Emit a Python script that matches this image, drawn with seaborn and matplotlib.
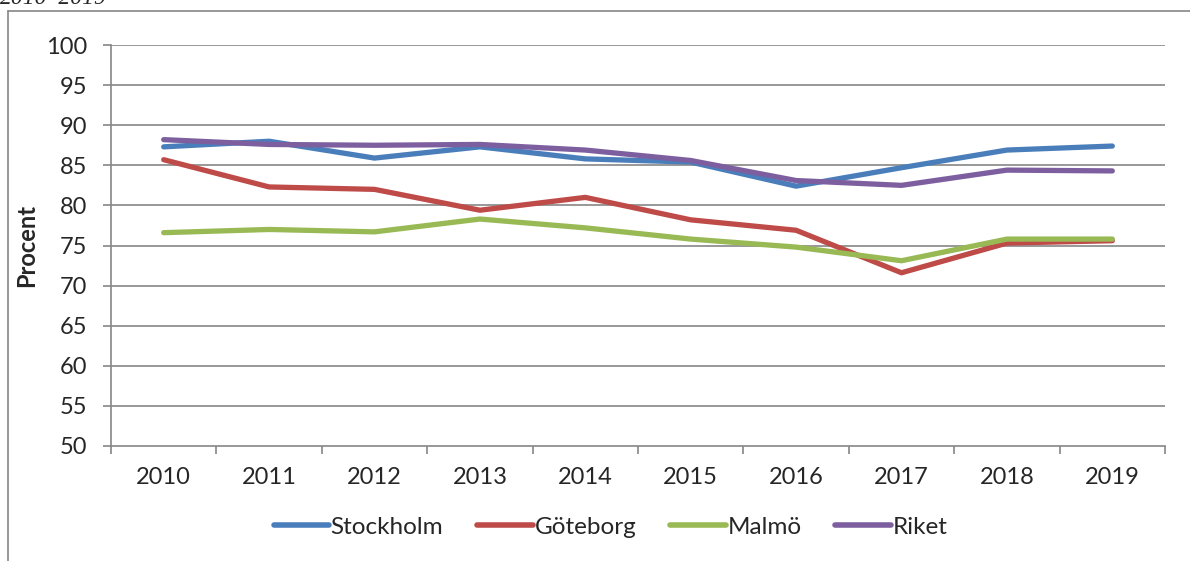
import seaborn as sns
import matplotlib.pyplot as plt
import pandas as pd
from matplotlib.lines import Line2D

years = ['2010', '2011', '2012', '2013', '2014', '2015', '2016', '2017', '2018', '2019']
stockholm = [87.3, 88.0, 85.9, 87.3, 85.8, 85.4, 82.4, 84.7, 86.9, 87.4]
goteborg = [85.7, 82.3, 82.0, 79.4, 81.0, 78.2, 76.9, 71.6, 75.3, 75.6]
malmo = [76.6, 77.0, 76.7, 78.3, 77.2, 75.8, 74.8, 73.1, 75.8, 75.8]
riket = [88.2, 87.6, 87.5, 87.6, 86.9, 85.6, 83.1, 82.5, 84.4, 84.3]

series_names = ['Stockholm', 'Göteborg', 'Malmö', 'Riket']
colors = ['#4A7EBB', '#BE4B48', '#98B954', '#7D5FA0']

rows = []
for name, vals in zip(series_names, [stockholm, goteborg, malmo, riket]):
    for i, v in enumerate(vals):
        rows.append({'pos': i, 'serie': name, 'procent': v})
df = pd.DataFrame(rows)

sns.set_style('white')
plt.rcParams['font.family'] = ['Lato', 'DejaVu Sans']

fig = plt.figure(figsize=(11.9, 5.61), dpi=100)
ax = fig.add_axes([111 / 1190, 1 - 446 / 561, (1165 - 111) / 1190, (446 - 45) / 561])

grid_col = '#868686'
for y in range(55, 101, 5):
    ax.axhline(y, color=grid_col, lw=1.2, zorder=0)

sns.lineplot(data=df, x='pos', y='procent', hue='serie', palette=colors,
             hue_order=series_names, linewidth=3.8, ax=ax, legend=False, zorder=3)

ax.set_xlim(-0.5, 9.5)
ax.set_ylim(50, 100)
ax.set_yticks(range(50, 101, 5))
ax.set_xticks(range(len(years)))
ax.set_xticklabels(years)
ax.set_xticks([i - 0.5 for i in range(len(years) + 1)], minor=True)
ax.tick_params(axis='x', which='major', length=0, pad=15, labelsize=17)
ax.tick_params(axis='x', which='minor', length=6, width=1.2, color=grid_col, direction='out')
ax.tick_params(axis='y', length=6, width=1.2, color=grid_col, direction='out', pad=11, labelsize=17)
ax.tick_params(left=True, bottom=True, which='both')

for s in ['top', 'right']:
    ax.spines[s].set_visible(False)
for s in ['left', 'bottom']:
    ax.spines[s].set_color(grid_col)
    ax.spines[s].set_linewidth(1.2)

ax.set_xlabel('')
ax.set_ylabel('Procent', fontsize=17, fontweight='bold', labelpad=6)

handles = [Line2D([0], [0], color=c, lw=4, solid_capstyle='round') for c in colors]
fig.legend(handles, series_names, loc='center', bbox_to_anchor=(0.513, 1 - 527 / 561),
           ncol=4, frameon=False, fontsize=17.5, handlelength=2.3, handletextpad=0.05,
           columnspacing=1.4)

# outer chart frame (partly cut off)
fig.add_artist(Line2D([8 / 1190, 8 / 1190], [0, 1 - 11 / 561], color=grid_col, lw=1.2))
fig.add_artist(Line2D([8 / 1190, 1], [1 - 11 / 561, 1 - 11 / 561], color=grid_col, lw=1.2))

fig.text(0.0, 1 - 4 / 561, '2010–2019', fontsize=17, style='italic',
         family='Liberation Serif', va='baseline', ha='left')

fig.savefig('out.png', dpi=100)
